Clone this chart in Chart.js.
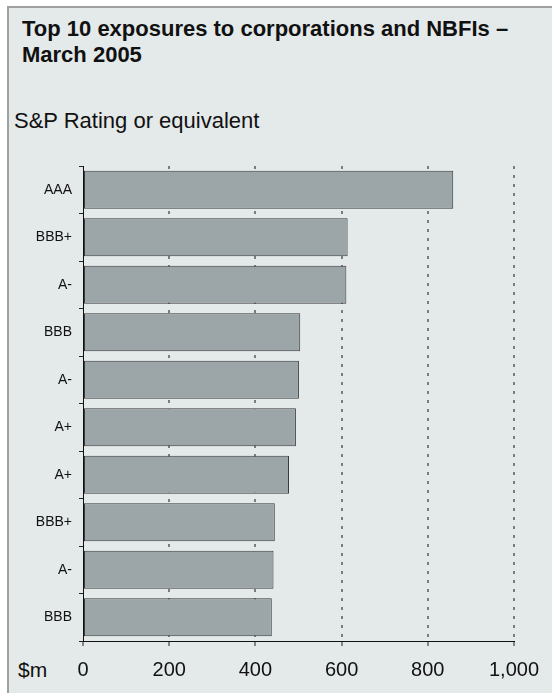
<!DOCTYPE html>
<html>
<head>
<meta charset="utf-8">
<script src="https://cdn.jsdelivr.net/npm/chart.js@4.4.1/dist/chart.umd.min.js"></script>
<style>
  html, body { margin: 0; padding: 0; background: #ffffff; }
  body { width: 552px; height: 693px; position: relative; overflow: hidden;
         font-family: "Liberation Sans", Arial, sans-serif; color: #111; }
  .panel { position: absolute; left: 7px; top: 6px; width: 560px; height: 700px;
           background: #e4e9e9; border-top: 2px solid #a0a0a0; border-left: 2px solid #a0a0a0; }
  .title { position: absolute; left: 22px; top: 16px; font-size: 22px; font-weight: bold; line-height: 26px; }
  .subtitle { position: absolute; left: 14px; top: 108px; font-size: 22px; line-height: 26px; }
  .unit { position: absolute; left: 18px; top: 658px; font-size: 21px; }
  #wrap { position: absolute; left: 0; top: 0; width: 552px; height: 693px; }
</style>
</head>
<body>
<div class="panel"></div>
<div class="title">Top 10 exposures to corporations and NBFIs –<br>March 2005</div>
<div class="subtitle">S&amp;P Rating or equivalent</div>
<div class="unit">$m</div>
<div id="wrap"><canvas id="chart"></canvas></div>

<script>
// ratings of the ten largest exposures, largest first
const ratings = ['AAA', 'BBB+', 'A-', 'BBB', 'A-', 'A+', 'A+', 'BBB+', 'A-', 'BBB'];
// exposure size, $m
const exposures = [859, 614, 611, 504, 501, 494, 478, 445, 442, 438];
const xTicks = [0, 200, 400, 600, 800, 1000];

const ctx = document.getElementById('chart').getContext('2d');

new Chart(ctx, {
  type: 'bar',
  data: {
    labels: ratings,
    datasets: [{
      data: exposures,
      backgroundColor: '#9ca6a9',
      borderColor: '#3a3a3a',
      borderWidth: 1,
      borderSkipped: false,
      barPercentage: 0.8,
      categoryPercentage: 1,
    }],
  },
  options: {
    indexAxis: 'y',
    responsive: true,
    maintainAspectRatio: false,
    animation: false,
    layout: { padding: { top: 166, right: 38, left: 0, bottom: 0 } },
    plugins: {
      legend: { display: false },
      tooltip: { enabled: false },
    },
    scales: {
      x: {
        min: 0,
        max: 1000,
        afterBuildTicks: (axis) => { axis.ticks = xTicks.map(v => ({ value: v })); },
        afterFit: (axis) => { axis.height = 52; },
        ticks: {
          color: '#111',
          font: { family: 'Liberation Sans, Arial', size: 20 },
          padding: 12,
          maxRotation: 0,
          autoSkip: false,
          callback: (v) => v.toLocaleString('en-US'),
        },
        grid: {
          // no dotted line at zero, the axis line sits there
          color: (c) => c.tick && c.tick.value === 0 ? 'rgba(0,0,0,0)' : '#7c7c7c',
          lineWidth: 2,
          tickColor: '#222',
          tickLength: 5,
          tickWidth: 1,
        },
        border: { display: true, color: '#111', width: 1, dash: [3, 6] },
      },
      y: {
        afterFit: (axis) => { axis.width = 83; },
        ticks: {
          color: '#111',
          font: { family: 'Liberation Sans, Arial', size: 14 },
          padding: 7,
        },
        grid: {
          offset: true,
          drawOnChartArea: false,
          tickColor: '#222',
          tickLength: 4,
          tickWidth: 1,
        },
        border: { display: true, color: '#111', width: 1 },
      },
    },
  },
});
</script>
</body>
</html>
